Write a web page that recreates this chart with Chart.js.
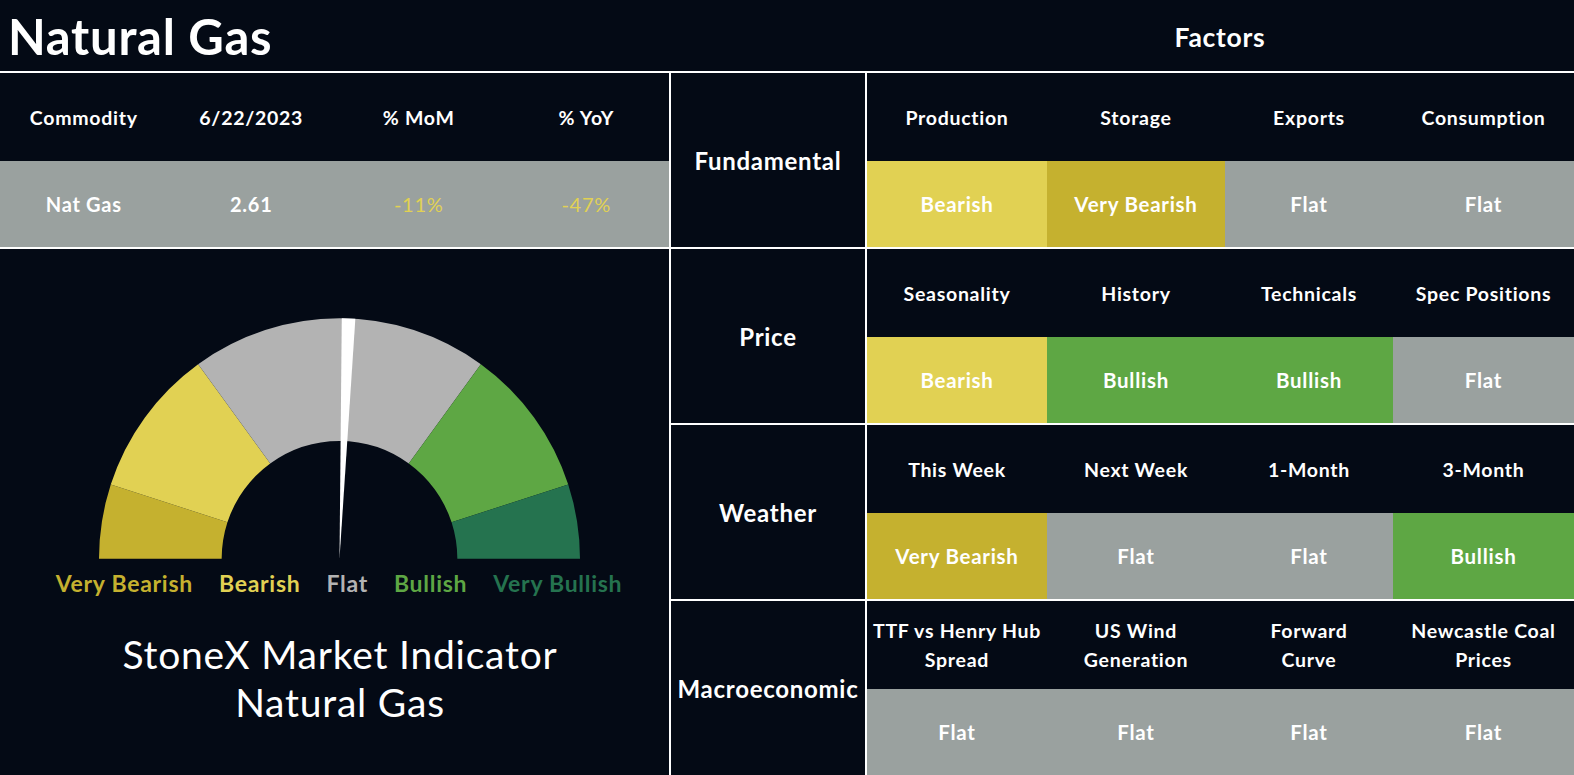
<!DOCTYPE html>
<html>
<head>
<meta charset="utf-8">
<script src="https://cdn.jsdelivr.net/npm/chart.js"></script>
<style>
  html, body { margin: 0; padding: 0; }
  body {
    width: 1574px; height: 775px; overflow: hidden; position: relative;
    background: #040a15; color: #fff; font-family: 'Lato', 'Open Sans', sans-serif;
    letter-spacing: 0.045em;
  }
  .abs { position: absolute; }
  .line { position: absolute; background: #fff; }
  .cell {
    position: absolute; display: flex; align-items: center; justify-content: center;
    text-align: center; font-weight: 700; font-size: 19.5px; line-height: 29px; box-sizing: border-box;
  }
  #title { left: 8px; top: 8px; font-size: 49px; font-weight: 700; line-height: 56px; }
  #factorsTitle { left: 1120px; width: 200px; top: 21px; text-align: center; font-size: 26.5px; font-weight: 700; }
  #gaugeBox { position: absolute; left: 99px; top: 318px; width: 481px; height: 241px; }
  #gaugeLegend {
    position: absolute; left: 0; width: 678px; top: 569px; display: flex; justify-content: center;
    gap: 26px; font-size: 23px; font-weight: 700;
  }
  #gaugeCaption {
    position: absolute; left: 0; width: 680px; top: 630px; text-align: center;
    font-size: 39px; line-height: 48px; font-weight: 400; letter-spacing: 0.02em;
  }
</style>
</head>
<body>
<div id="title" class="abs">Natural Gas</div>
<div id="factorsTitle" class="abs">Factors</div>
<div id="gaugeBox"><canvas id="gauge"></canvas></div>
<div id="gaugeLegend"></div>
<div id="gaugeCaption">StoneX Market Indicator<br>Natural Gas</div>
<div id="grid"></div>
<script>
// 요약 테이블
const summaryHeaders = ['Commodity', '6/22/2023', '% MoM', '% YoY'];
const summaryValues = ['Nat Gas', '2.61', '-11%', '-47%'];
const summaryColors = ['#ffffff', '#ffffff', '#e1d153', '#e1d153'];

// 팩터 그룹과 신호
const factorGroups = ['Fundamental', 'Price', 'Weather', 'Macroeconomic'];
const factorNames = [
    ['Production', 'Storage', 'Exports', 'Consumption'],
    ['Seasonality', 'History', 'Technicals', 'Spec Positions'],
    ['This Week', 'Next Week', '1-Month', '3-Month'],
    ['TTF vs Henry Hub<br>Spread', 'US Wind<br>Generation', 'Forward<br>Curve', 'Newcastle Coal<br>Prices'],
];
const factorSignals = [
    ['Bearish', 'Very Bearish', 'Flat', 'Flat'],
    ['Bearish', 'Bullish', 'Bullish', 'Flat'],
    ['Very Bearish', 'Flat', 'Flat', 'Bullish'],
    ['Flat', 'Flat', 'Flat', 'Flat'],
];

// 게이지
const gaugeLabels = ['Very Bearish', 'Bearish', 'Flat', 'Bullish', 'Very Bullish'];
const gaugeValues = [10, 20, 40, 20, 10];
const gaugeColors = ['#c5b12f', '#e1d153', '#b3b3b3', '#5ea744', '#25734f'];
const needleValue = 51.2;

const signalColors = {
    'Very Bearish': '#c5b12f',
    'Bearish': '#e1d153',
    'Flat': '#9aa19f',
    'Bullish': '#5ea744',
    'Very Bullish': '#25734f',
};

const grid = document.getElementById('grid');
const addDiv = (cls, x, y, w, h, html, style = {}) => {
    const d = document.createElement('div');
    d.className = cls;
    Object.assign(d.style, { left: x + 'px', top: y + 'px', width: w + 'px', height: h + 'px' }, style);
    if (html) d.innerHTML = html;
    grid.appendChild(d);
    return d;
};

// 왼쪽 요약 테이블
const sumColW = 167.5;
summaryHeaders.forEach((h, i) => {
    addDiv('cell', i * sumColW, 73, sumColW, 88, h);
});
addDiv('abs', 0, 161, 669, 86, '', { background: '#9aa19f' });
summaryValues.forEach((v, i) => {
    addDiv('cell', i * sumColW, 161, sumColW, 86, v, {
        color: summaryColors[i], fontWeight: i > 1 ? 400 : 700, fontSize: '20px',
    });
});

// 오른쪽 팩터 그리드
const colX = [867, 1047, 1225, 1393, 1574];
const blockTop = [73, 249, 425, 601];
const headerH = [88, 88, 88, 88];
const blockBottom = [247, 423, 599, 775];
factorGroups.forEach((g, r) => {
    const top = blockTop[r];
    const mid = top + headerH[r];
    addDiv('cell', 671, top, 194, blockBottom[r] - top, g, { fontSize: '24px' });
    factorNames[r].forEach((name, c) => {
        const x = colX[c];
        const w = colX[c + 1] - x;
        addDiv('cell', x, top, w, headerH[r], name);
        const sig = factorSignals[r][c];
        const valH = (r === 3 ? 775 : blockBottom[r]) - mid;
        addDiv('cell', x, mid, w, valH, sig, { background: signalColors[sig], fontSize: '20.5px' });
    });
});

// 구분선
addDiv('line', 0, 71, 1574, 2);
addDiv('line', 669, 71, 2, 704);
addDiv('line', 865, 71, 2, 704);
addDiv('line', 0, 247, 1574, 2);
addDiv('line', 671, 423, 903, 2);
addDiv('line', 671, 599, 903, 2);

// 게이지 범례
const legend = document.getElementById('gaugeLegend');
gaugeLabels.forEach((l, i) => {
    const s = document.createElement('span');
    s.textContent = l;
    s.style.color = gaugeColors[i];
    legend.appendChild(s);
});

// 바늘 플러그인: 도넛의 중심과 반지름을 그대로 사용
const needlePlugin = {
    id: 'needle',
    afterDatasetsDraw(chart) {
        const arc = chart.getDatasetMeta(0).data[0];
        if (!arc) return;
        const { x, y, outerRadius } = arc.getProps(['x', 'y', 'outerRadius'], true);
        const total = gaugeValues.reduce((a, b) => a + b, 0);
        const a0 = -Math.PI + ((needleValue - 0.9) / total) * Math.PI;
        const a1 = -Math.PI + ((needleValue + 0.9) / total) * Math.PI;
        const ctx = chart.ctx;
        ctx.save();
        ctx.beginPath();
        ctx.moveTo(x, y);
        ctx.arc(x, y, outerRadius, a0, a1);
        ctx.closePath();
        ctx.fillStyle = '#ffffff';
        ctx.fill();
        ctx.restore();
    },
};

new Chart(document.getElementById('gauge'), {
    type: 'doughnut',
    data: {
        labels: gaugeLabels,
        datasets: [{
            data: gaugeValues,
            backgroundColor: gaugeColors,
            borderWidth: 0,
        }],
    },
    options: {
        responsive: true,
        maintainAspectRatio: false,
        animation: false,
        rotation: -90,
        circumference: 180,
        cutout: '49%',
        plugins: {
            legend: { display: false },
            tooltip: { enabled: false },
        },
    },
    plugins: [needlePlugin],
});
</script>
</body>
</html>
